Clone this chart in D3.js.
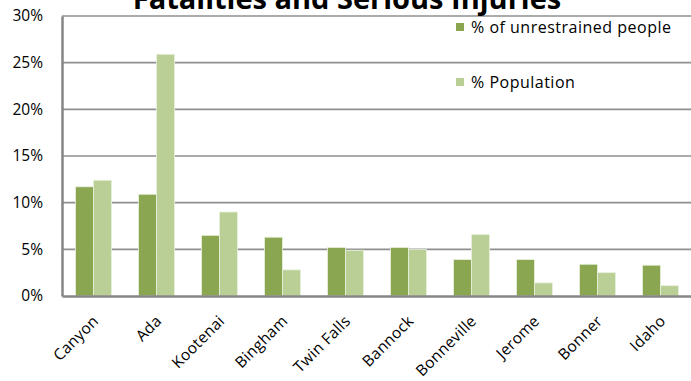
<!DOCTYPE html>
<html><head><meta charset="utf-8">
<script src="https://cdn.jsdelivr.net/npm/d3@7"></script>
<style>body{margin:0;background:#fff;overflow:hidden}svg{display:block}text{font-family:"Open Sans","Liberation Sans",sans-serif}</style>
</head><body><svg id="c" width="691" height="381"></svg>
<script>
const categories = ["Canyon","Ada","Kootenai","Bingham","Twin Falls","Bannock","Bonneville","Jerome","Bonner","Idaho"];
const unrestrained = [11.7, 10.9, 6.5, 6.3, 5.2, 5.2, 3.9, 3.9, 3.4, 3.3];
const population = [12.4, 25.9, 9.0, 2.8, 4.9, 5.0, 6.6, 1.4, 2.5, 1.1];
const seriesNames = ["% of unrestrained people", "% Population"];
const colors = ["#8aa650", "#bacf95"];
const yTicks = [0, 5, 10, 15, 20, 25, 30];

(function () {
const svg = d3.select("#c");
const mLeft = 62, mRight = 692, mTop = 16, mBottom = 296;
const x = d3.scaleBand().domain(categories).range([mLeft, mRight]).paddingInner(0.43).paddingOuter(0.215);
const xs = d3.scaleBand().domain([0,1]).range([0, x.bandwidth()]);
const y = d3.scaleLinear().domain([0, 30]).range([mBottom, mTop]);

svg.append("g").selectAll("line").data(yTicks.filter(d => d > 0)).join("line")
  .attr("x1", mLeft).attr("x2", mRight).attr("y1", d => y(d)).attr("y2", d => y(d))
  .attr("stroke", "#8f8f8f").attr("stroke-width", 1.6);

const series = [unrestrained, population];
series.forEach((vals, si) => {
  svg.append("g").selectAll("rect").data(vals).join("rect")
    .attr("x", (d, i) => x(categories[i]) + xs(si))
    .attr("width", xs.bandwidth())
    .attr("y", d => y(d))
    .attr("height", d => y(0) - y(d))
    .attr("fill", colors[si])
    .attr("stroke", "#e8f0dc").attr("stroke-width", 0.8);
});

const yAxis = d3.axisLeft(y).tickValues(yTicks).tickFormat(d => d + "%").tickSize(0).tickPadding(19);
const ga = svg.append("g").attr("transform", `translate(${mLeft},0)`).call(yAxis);
ga.select(".domain").attr("stroke", "#868686").attr("stroke-width", 2.5);
ga.selectAll("text").attr("font-size", 15.5).attr("fill", "#000");

const xAxis = d3.axisBottom(x).tickSize(0).tickPadding(0);
const gx = svg.append("g").attr("transform", `translate(0,${mBottom})`).call(xAxis);
gx.select(".domain").attr("stroke", "#868686").attr("stroke-width", 2.5);
gx.selectAll("text").attr("font-size", 15.5).attr("letter-spacing", 0.3).attr("fill", "#000")
  .attr("text-anchor", "end").attr("dy", null).attr("y", 0)
  .attr("transform", "translate(6,26) rotate(-45)");

svg.append("text").attr("x", 347).attr("y", 9).attr("text-anchor", "middle")
  .attr("font-size", 29).attr("font-weight", "bold").attr("fill", "#000")
  .text("Fatalities and Serious Injuries");

const lg = svg.append("g");
seriesNames.forEach((n, i) => {
  const yy = 27 + i * 55;
  lg.append("rect").attr("x", 456).attr("y", yy - 4).attr("width", 8).attr("height", 8).attr("fill", colors[i]);
  lg.append("text").attr("x", 471).attr("y", yy + 6).attr("font-size", 16).attr("letter-spacing", 0.5).attr("fill", "#000").text(n);
});
})();
</script></body></html>
